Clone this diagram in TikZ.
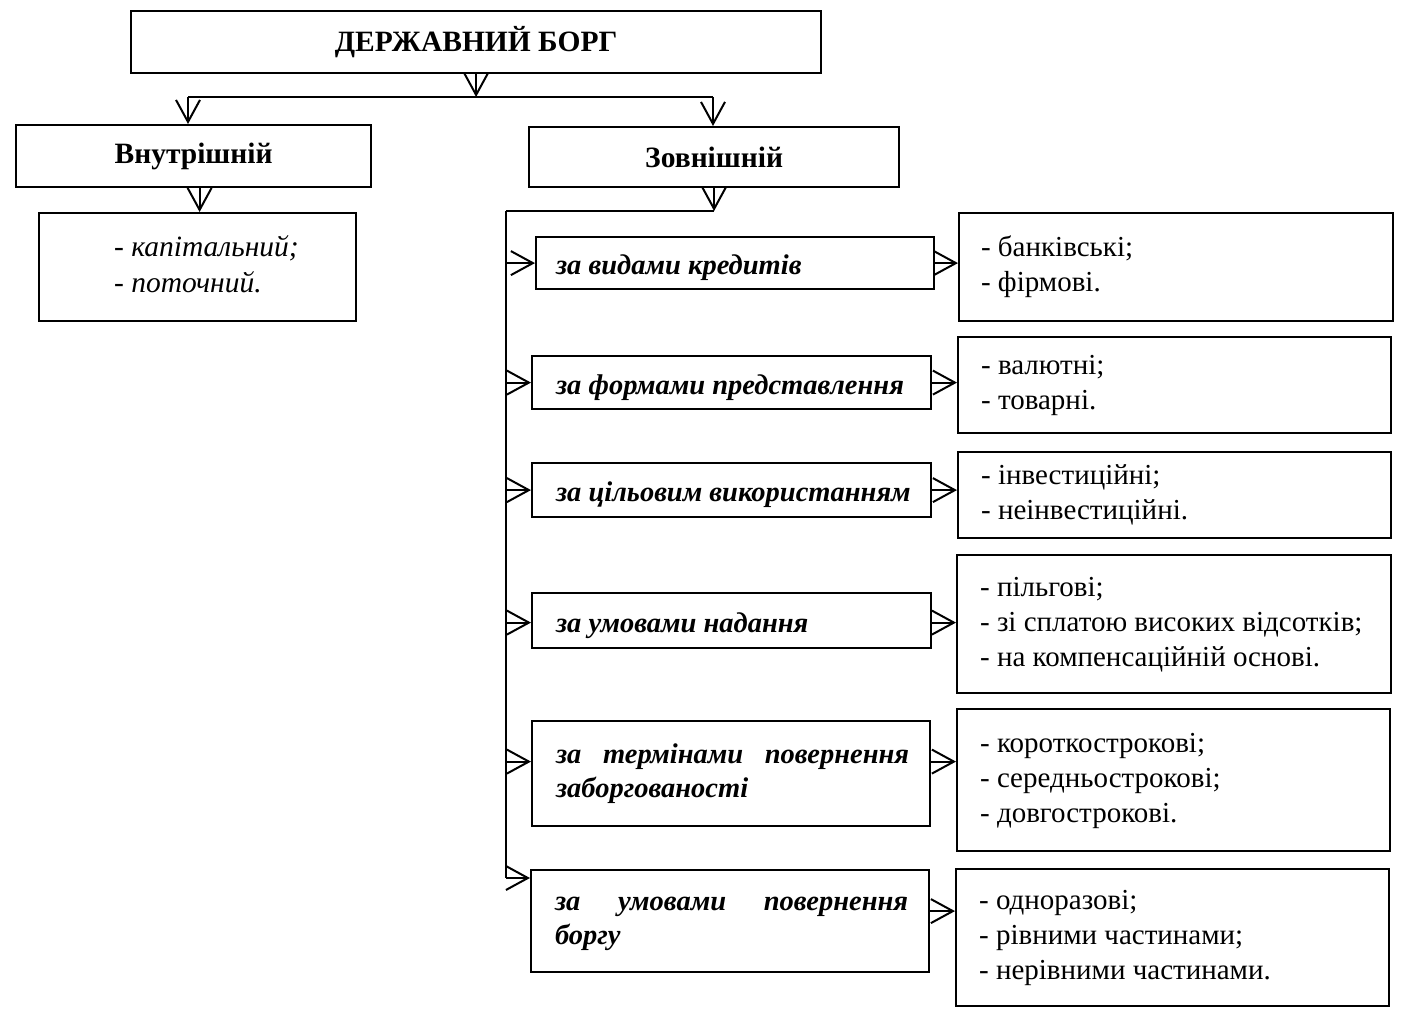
\documentclass[tikz,border=0pt]{standalone}
\usepackage{fontspec}
\setmainfont{Liberation Serif}
\usetikzlibrary{arrows.meta,calc}
\newcommand\lstbox[3]{\makebox[#2][l]{\hspace*{#1}\begin{tabular}{@{}l@{}}#3\end{tabular}}}
\newcommand\lowr[1]{\raisebox{-5pt}[\dimexpr\height+5pt\relax][\dimexpr\depth+5pt\relax]{#1}}
\begin{document}
\begin{tikzpicture}[x=1pt,y=-1pt,
  box/.style={draw, line width=2.2pt, inner sep=0pt, anchor=north west},
  arr/.style={line width=2pt, -{Straight Barb[length=22pt,width=24pt,line width=2pt]}},
  ln/.style={line width=2pt},
  hfont/.style={font=\fontsize{29.5}{35}\selectfont\bfseries},
  cfont/.style={font=\fontsize{28.5}{34}\selectfont\bfseries\itshape},
  ifont/.style={font=\fontsize{29.5}{36}\selectfont\itshape},
  rfont/.style={font=\fontsize{29}{35}\selectfont}]
\useasboundingbox (0,0) rectangle (1409,1014);
\fill[white] (0,0) rectangle (1409,1014);

\node[box, hfont, minimum width=690pt, minimum height=62pt] (main) at (130,10) {ДЕРЖАВНИЙ БОРГ};
\node[box, hfont, minimum width=355pt, minimum height=62pt] (vn) at (15,124) {Внутрішній};
\node[box, hfont, minimum width=370pt, minimum height=60pt] (zv) at (528,126) {Зовнішній};

\node[box, ifont, minimum width=317pt, minimum height=108pt] (vl) at (38,212) {\lstbox{75pt}{317pt}{- капітальний;\\- поточний.}};

\node[box, cfont, minimum width=398pt, minimum height=52pt] (c1) at (535,236) {\lowr{\lstbox{20pt}{398pt}{за видами кредитів}}};
\node[box, cfont, minimum width=399pt, minimum height=53pt] (c2) at (531,355) {\lowr{\lstbox{24pt}{399pt}{за формами представлення}}};
\node[box, cfont, minimum width=399pt, minimum height=54pt] (c3) at (531,462) {\lowr{\lstbox{24pt}{399pt}{за цільовим використанням}}};
\node[box, cfont, minimum width=399pt, minimum height=55pt] (c4) at (531,592) {\lowr{\lstbox{24pt}{399pt}{за умовами надання}}};
\node[box, cfont, minimum width=398pt, minimum height=105pt] (c5) at (531,720) {\lstbox{24pt}{398pt}{\makebox[353pt][s]{за термінами повернення}\\заборгованості}};
\node[box, cfont, minimum width=398pt, minimum height=102pt] (c6) at (530,869) {\lstbox{24pt}{398pt}{\makebox[353pt][s]{за умовами повернення}\\боргу}};

\node[box, rfont, minimum width=434pt, minimum height=108pt] (r1) at (958,212) {\lstbox{22pt}{434pt}{- банківські;\\- фірмові.}};
\node[box, rfont, minimum width=433pt, minimum height=96pt] (r2) at (957,336) {\lstbox{23pt}{433pt}{- валютні;\\- товарні.}};
\node[box, rfont, minimum width=433pt, minimum height=86pt] (r3) at (957,451) {\lstbox{23pt}{433pt}{- інвестиційні;\\- неінвестиційні.}};
\node[box, rfont, minimum width=434pt, minimum height=138pt] (r4) at (956,554) {\lstbox{23pt}{434pt}{- пільгові;\\- зі сплатою високих відсотків;\\- на компенсаційній основі.}};
\node[box, rfont, minimum width=433pt, minimum height=142pt] (r5) at (956,708) {\lstbox{23pt}{433pt}{- короткострокові;\\- середньострокові;\\- довгострокові.}};
\node[box, rfont, minimum width=433pt, minimum height=137pt] (r6) at (955,868) {\lstbox{23pt}{433pt}{- одноразові;\\- рівними частинами;\\- нерівними частинами.}};

% top split
\coordinate (lv) at (188,97);
\coordinate (rv) at (713,97);
\draw[ln] (lv) -- (rv);
\draw[arr] (main.south) -- (main.south |- lv);
\draw[arr] (lv) -- (lv |- vn.north);
\draw[arr] (rv) -- (rv |- zv.north);
\coordinate (va) at ($(vn.south)+(6,0)$);
\draw[arr] (va) -- (va |- vl.north);

% bus
\coordinate (bt) at (506,211);
\coordinate (bb) at (506,878);
\draw[ln] (bt) -- (zv.south |- bt);
\draw[arr] (zv.south) -- (zv.south |- bt);
\draw[ln] (bt) -- (bb);
\coordinate (a1) at (c1.west);
\coordinate (a2) at (c2.west);
\coordinate (a3) at (c3.west);
\coordinate (a4) at ($(c4.west)+(0,2)$);
\coordinate (a5) at ($(c5.west)+(0,-12)$);
\draw[arr] (bt |- a1) -- (a1);
\draw[arr] (bt |- a2) -- (a2);
\draw[arr] (bt |- a3) -- (a3);
\draw[arr] (bt |- a4) -- (a4);
\draw[arr] (bt |- a5) -- (a5);
\draw[arr] (bb) -- (bb -| c6.west);

% criteria to results
\coordinate (e1) at (c1.east);
\coordinate (e2) at (c2.east);
\coordinate (e3) at (c3.east);
\coordinate (e4) at ($(c4.east)+(0,2)$);
\coordinate (e5) at ($(c5.east)+(0,-12)$);
\coordinate (e6) at ($(c6.east)+(0,-10)$);
\draw[arr] (e1) -- (e1 -| r1.west);
\draw[arr] (e2) -- (e2 -| r2.west);
\draw[arr] (e3) -- (e3 -| r3.west);
\draw[arr] (e4) -- (e4 -| r4.west);
\draw[arr] (e5) -- (e5 -| r5.west);
\draw[arr] (e6) -- (e6 -| r6.west);
\end{tikzpicture}
\end{document}
